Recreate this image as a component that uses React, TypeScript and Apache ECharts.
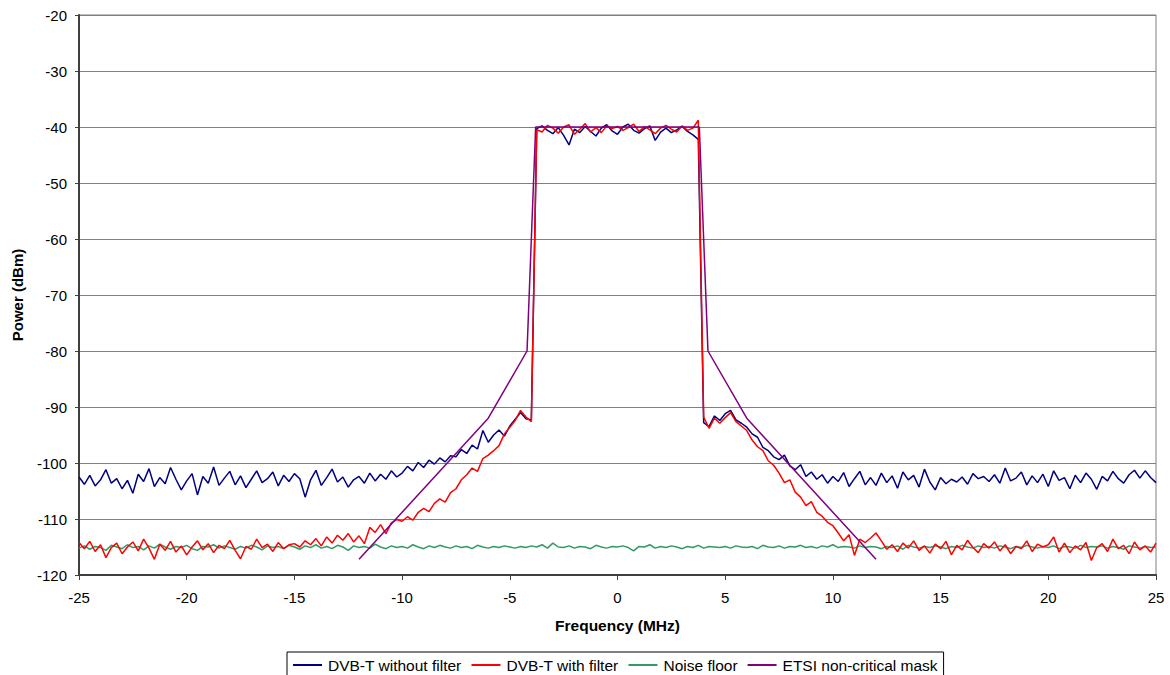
import React, { useEffect, useRef } from "react";
import * as echarts from "echarts";

const FREQ_START = -25;
const FREQ_STEP = 0.25;

const withoutFilter = [
  -102.5,-103.8,-102.2,-104.1,-103.0,-101.2,-103.6,-102.8,-104.6,-103.1,
  -105.4,-102.0,-103.3,-101.0,-104.2,-102.6,-103.7,-100.8,-102.9,-104.8,
  -103.2,-101.9,-105.7,-102.4,-103.6,-100.7,-104.0,-102.7,-101.5,-103.9,
  -102.3,-104.4,-102.9,-101.4,-103.5,-102.8,-101.6,-104.1,-102.2,-103.3,
  -101.9,-102.8,-106.1,-103.0,-101.3,-104.0,-102.6,-101.1,-103.4,-102.5,
  -104.3,-103.0,-102.4,-103.6,-101.8,-103.2,-102.0,-102.9,-101.4,-102.5,
  -101.8,-100.6,-101.4,-99.9,-100.8,-99.5,-100.2,-99.1,-99.8,-98.7,
  -98.9,-97.6,-98.3,-96.8,-97.5,-94.2,-96.3,-95.0,-94.1,-95.2,
  -93.4,-92.2,-91.0,-92.1,-92.3,-40.3,-39.8,-40.6,-41.2,-40.1,
  -41.5,-43.2,-40.4,-41.0,-39.9,-40.8,-41.6,-40.2,-39.6,-40.7,
  -41.3,-40.0,-39.5,-40.6,-41.1,-40.3,-39.8,-42.4,-40.9,-40.2,
  -41.0,-40.5,-39.9,-40.8,-41.4,-42.2,-92.8,-93.5,-91.6,-92.4,
  -91.2,-90.6,-92.3,-92.9,-93.6,-94.8,-95.4,-97.2,-97.8,-98.9,
  -99.4,-98.6,-100.5,-101.2,-100.3,-102.4,-101.6,-102.9,-102.1,-103.6,
  -102.4,-103.3,-101.7,-104.2,-102.8,-101.5,-103.9,-102.6,-104.0,-101.8,
  -103.5,-102.3,-104.5,-101.6,-103.0,-102.2,-104.3,-101.1,-103.4,-104.8,
  -102.6,-103.7,-102.9,-103.4,-102.5,-103.8,-101.9,-102.8,-102.4,-103.3,
  -102.1,-103.6,-100.9,-103.2,-102.7,-101.6,-103.9,-102.3,-103.5,-102.0,
  -104.2,-101.4,-103.1,-102.6,-104.6,-102.2,-103.5,-101.8,-102.9,-104.7,
  -102.4,-103.2,-101.5,-102.8,-103.6,-102.1,-101.3,-102.7,-101.4,-102.6,
  -103.5,
];

const withFilter = [
  -114.2,-115.3,-114.0,-115.8,-114.6,-116.9,-115.1,-114.3,-116.2,-115.0,
  -114.1,-115.7,-113.6,-115.2,-117.2,-114.5,-115.6,-114.0,-115.9,-114.8,
  -116.4,-115.0,-113.9,-115.5,-114.4,-116.0,-114.7,-115.3,-113.8,-115.6,
  -117.1,-114.9,-115.4,-113.6,-115.1,-114.5,-115.8,-114.2,-115.3,-114.6,
  -114.4,-115.0,-113.9,-114.6,-113.5,-114.8,-113.2,-114.3,-112.9,-113.8,
  -112.6,-114.1,-113.0,-114.4,-111.5,-112.4,-111.0,-112.6,-110.7,-110.1,
  -110.4,-109.6,-110.2,-108.8,-108.1,-108.7,-107.2,-106.4,-107.0,-105.3,
  -104.6,-103.0,-102.1,-100.9,-101.5,-99.2,-98.6,-97.8,-96.9,-94.8,
  -93.6,-92.4,-90.6,-91.8,-92.6,-40.5,-40.9,-39.7,-40.2,-41.1,
  -40.0,-39.6,-41.3,-40.4,-39.4,-40.9,-40.1,-41.0,-39.8,-40.3,
  -39.9,-40.6,-40.1,-39.5,-40.8,-39.9,-40.5,-41.2,-40.2,-39.7,
  -40.4,-40.9,-39.8,-40.6,-40.2,-38.8,-91.8,-93.8,-92.0,-92.9,
  -91.9,-91.0,-92.6,-93.4,-94.2,-95.9,-97.1,-97.8,-99.6,-100.4,
  -101.8,-103.5,-103.0,-105.2,-106.1,-107.6,-106.9,-108.8,-109.5,-110.6,
  -111.2,-112.5,-113.9,-112.8,-116.5,-113.6,-114.2,-113.4,-112.5,-113.9,
  -115.4,-114.6,-115.8,-114.3,-115.2,-113.9,-115.6,-114.8,-116.1,-114.5,
  -115.3,-114.0,-116.4,-114.7,-115.5,-113.8,-115.1,-116.0,-114.4,-115.2,
  -114.1,-115.7,-114.6,-116.2,-114.9,-115.3,-113.9,-115.8,-114.5,-115.0,
  -114.6,-113.2,-115.9,-114.3,-116.0,-114.8,-115.5,-114.2,-117.4,-115.1,
  -114.4,-115.8,-113.6,-115.3,-114.7,-116.2,-114.1,-115.5,-114.8,-115.9,
  -114.3,
];

const noiseFloor = [
  -115.2,-114.8,-115.4,-114.9,-115.1,-115.6,-114.7,-115.0,-115.3,-114.6,
  -115.1,-114.9,-115.5,-114.8,-115.2,-114.5,-115.0,-115.4,-114.9,-115.1,
  -114.7,-115.3,-115.6,-114.9,-115.0,-114.6,-115.2,-114.8,-115.1,-115.4,
  -114.9,-115.2,-114.7,-115.0,-115.5,-114.8,-115.1,-114.9,-115.3,-114.7,
  -115.0,-115.4,-114.8,-115.1,-114.6,-115.2,-114.9,-115.3,-114.7,-115.0,
  -115.6,-114.8,-115.1,-114.9,-115.2,-114.5,-115.0,-115.3,-114.8,-115.1,
  -114.9,-115.2,-114.6,-115.0,-115.3,-114.8,-115.1,-114.7,-115.0,-115.2,
  -114.8,-115.1,-114.9,-115.3,-114.7,-115.0,-115.2,-114.9,-115.1,-114.8,
  -115.0,-115.2,-114.9,-115.1,-114.8,-115.0,-114.6,-115.2,-114.3,-115.0,
  -115.1,-114.8,-115.2,-114.9,-115.0,-115.3,-114.7,-115.0,-115.2,-114.9,
  -115.0,-114.8,-115.1,-115.7,-114.9,-115.0,-114.6,-115.2,-114.9,-115.1,
  -114.8,-115.0,-115.3,-114.9,-115.1,-114.7,-115.2,-114.9,-115.0,-115.1,
  -114.9,-115.2,-114.8,-115.0,-115.1,-114.9,-115.3,-114.7,-115.0,-115.1,
  -114.8,-115.2,-114.9,-115.0,-114.7,-115.1,-114.9,-115.2,-114.8,-115.0,
  -114.6,-115.1,-114.9,-115.0,-115.2,-114.8,-115.1,-114.9,-115.0,-115.3,
  -114.9,-115.1,-114.8,-115.4,-114.7,-115.0,-115.2,-114.9,-115.1,-114.8,
  -115.0,-115.3,-114.9,-115.1,-114.7,-115.0,-115.2,-114.8,-115.1,-114.9,
  -115.2,-114.8,-115.0,-115.3,-114.9,-115.1,-114.7,-115.0,-115.2,-114.9,
  -115.1,-114.8,-115.3,-114.9,-115.0,-115.2,-114.7,-115.1,-114.9,-115.0,
  -114.8,-115.2,-114.9,-115.1,-115.4,-114.8,-115.0,-115.2,-114.9,-115.1,
  -115.0,
];

const maskFreq = [-12, -6, -4.2, -3.8, 3.8, 4.2, 6, 12];
const maskPower = [-117.2, -92, -80, -40, -40, -80, -92, -117.2];

const seriesNames = [
  "DVB-T without filter",
  "DVB-T with filter",
  "Noise floor",
  "ETSI non-critical mask",
];
const seriesColors = ["#000080", "#FF0000", "#339966", "#800080"];

const FONT = 'Arial, "Liberation Sans", sans-serif';

function toPairs(values: number[]) {
  return values.map((v, i) => [FREQ_START + i * FREQ_STEP, v]);
}

export default function App() {
  const ref = useRef<HTMLDivElement>(null);

  useEffect(() => {
    document.body.style.margin = "0";
    if (!ref.current) return;
    const chart = echarts.init(ref.current, null, { renderer: "svg" });
    const lineSeries = (name: string, data: number[][], color: string, z: number) => ({
      name,
      type: "line",
      data,
      showSymbol: false,
      symbol: "none",
      z,
      lineStyle: { color, width: 1.5 },
      itemStyle: { color },
    });
    chart.setOption({
      animation: false,
      backgroundColor: "#ffffff",
      textStyle: { fontFamily: FONT },
      grid: {
        left: 79,
        right: 14,
        top: 15,
        bottom: 100,
        show: true,
        borderColor: "#808080",
        borderWidth: 1,
      },
      legend: {
        left: 287,
        top: 652,
        orient: "horizontal",
        data: seriesNames,
        icon: "rect",
        itemWidth: 29,
        itemHeight: 2,
        itemGap: 10,
        padding: [5, 6, 5, 6],
        borderColor: "#000000",
        borderWidth: 1,
        borderRadius: 0,
        textStyle: { fontFamily: FONT, fontSize: 15.5, color: "#000000", padding: [0, 0, 0, 1] },
      },
      xAxis: {
        type: "value",
        min: -25,
        max: 25,
        interval: 5,
        name: "Frequency (MHz)",
        nameLocation: "middle",
        nameGap: 42,
        nameTextStyle: { fontFamily: FONT, fontSize: 15.5, fontWeight: "bold", color: "#000000" },
        axisLine: { show: true, onZero: false, lineStyle: { color: "#404040", width: 2 } },
        axisTick: { show: true, length: 5, lineStyle: { color: "#404040", width: 1 } },
        axisLabel: { fontFamily: FONT, fontSize: 15, color: "#000000", margin: 15 },
        splitLine: { show: false },
      },
      yAxis: {
        type: "value",
        min: -120,
        max: -20,
        interval: 10,
        name: "Power (dBm)",
        nameLocation: "middle",
        nameGap: 54,
        nameRotate: 90,
        nameTextStyle: { fontFamily: FONT, fontSize: 15, fontWeight: "bold", color: "#000000" },
        axisLine: { show: true, onZero: false, lineStyle: { color: "#404040", width: 2 } },
        axisTick: { show: true, length: 4, lineStyle: { color: "#404040", width: 1 } },
        axisLabel: { fontFamily: FONT, fontSize: 15, color: "#000000", margin: 12 },
        splitLine: { show: true, lineStyle: { color: "#808080", width: 1 } },
      },
      series: [
        lineSeries(seriesNames[0], toPairs(withoutFilter), seriesColors[0], 3),
        lineSeries(seriesNames[1], toPairs(withFilter), seriesColors[1], 4),
        lineSeries(seriesNames[2], toPairs(noiseFloor), seriesColors[2], 2),
        lineSeries(
          seriesNames[3],
          maskFreq.map((f, i) => [f, maskPower[i]]),
          seriesColors[3],
          5
        ),
      ],
    });
    return () => chart.dispose();
  }, []);

  return <div ref={ref} style={{ width: 1170, height: 675 }} />;
}
